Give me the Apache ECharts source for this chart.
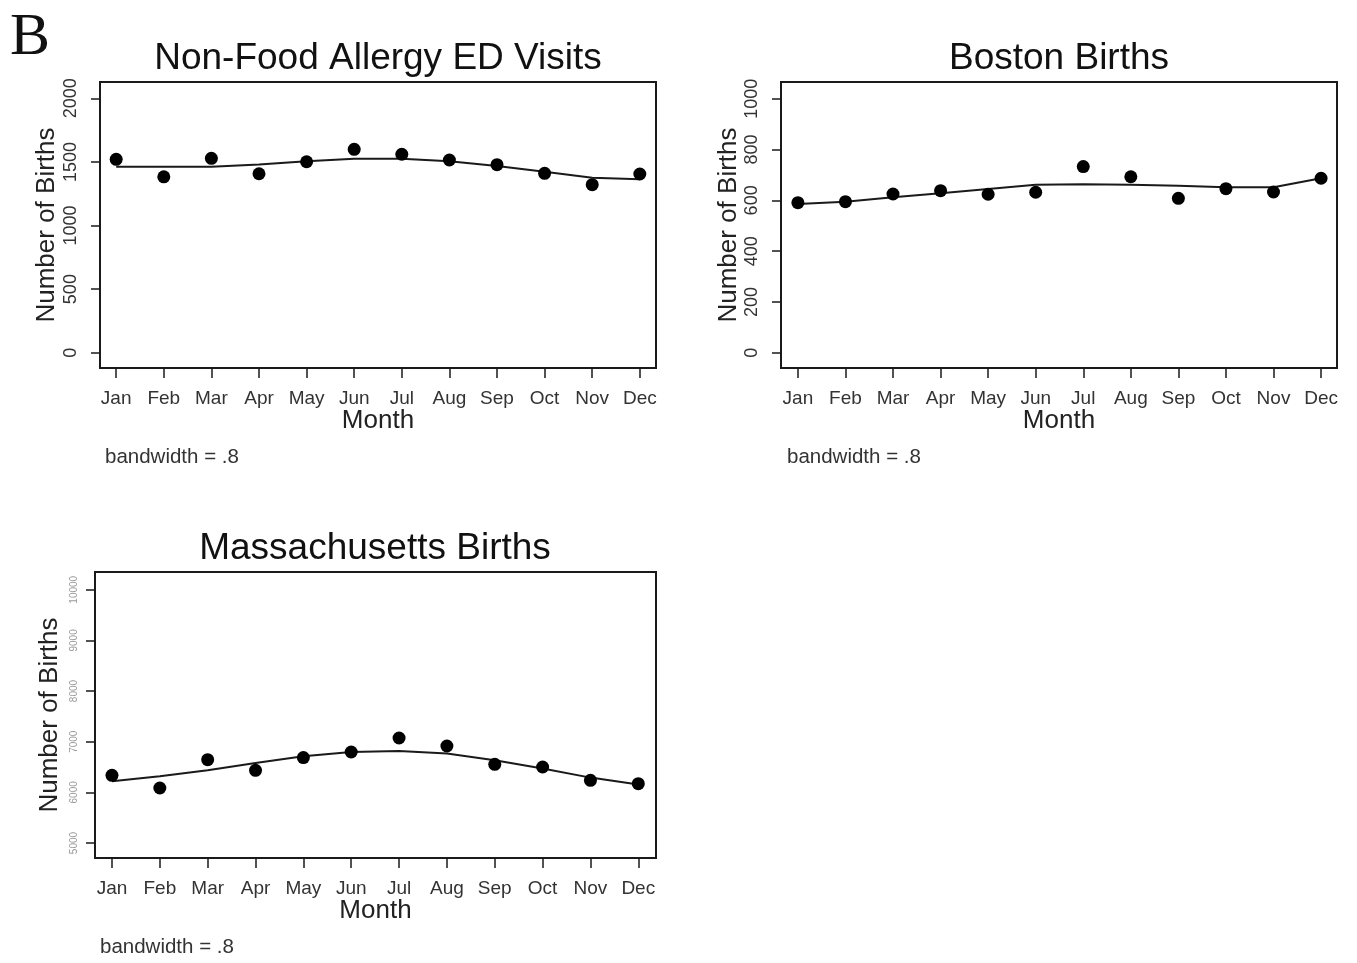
<!DOCTYPE html>
<html>
<head>
<meta charset="utf-8">
<script src="https://cdn.jsdelivr.net/npm/echarts@6/dist/echarts.min.js"></script>
<style>
html,body{margin:0;padding:0;background:#fff;}
#chart{width:1357px;height:963px;}
</style>
</head>
<body>
<div id="chart"></div>
<script>
// ---- data ----
const months = ['Jan','Feb','Mar','Apr','May','Jun','Jul','Aug','Sep','Oct','Nov','Dec'];
const monthNums = [1,2,3,4,5,6,7,8,9,10,11,12];

const allergyPts = [1520,1383,1528,1407,1501,1599,1560,1515,1478,1410,1321,1405];
const allergyFit = [1462,1462,1462,1480,1506,1525,1525,1506,1467,1423,1376,1363];
const allergyTicks = [0,500,1000,1500,2000];

const bostonPts = [591,595,625,638,624,632,733,693,608,646,633,687];
const bostonFit = [586,595,612,628,645,661,663,661,658,652,652,687];
const bostonTicks = [0,200,400,600,800,1000];

const massPts = [6336,6086,6646,6435,6686,6797,7073,6915,6553,6500,6238,6172];
const massFit = [6218,6317,6435,6579,6711,6797,6816,6765,6633,6469,6291,6153];
const massTicks = [5000,6000,7000,8000,9000,10000];

const titles = ['Non-Food Allergy ED Visits','Boston Births','Massachusetts Births'];
const yName = 'Number of Births';
const xName = 'Month';
const noteText = 'bandwidth = .8';
const panelLetter = 'B';

// ---- chart ----
const FONT = '"Liberation Sans", Arial, Helvetica, sans-serif';
const INK = '#1a1a1a';

const grids = [
  {left:100, top:82, width:556, height:286},
  {left:781, top:82, width:556, height:286},
  {left:95,  top:572, width:561, height:286}
];
const xRanges = [[0.66,12.34],[0.645,12.335],[0.645,12.37]];
const yRanges = [[-120,2128],[-60,1066],[4704,10350]];
const yTicks = [allergyTicks, bostonTicks, massTicks];
const pts = [allergyPts, bostonPts, massPts];
const fits = [allergyFit, bostonFit, massFit];
const yLabelStyle = [
  {fontSize:18, color:'#333', margin:20},
  {fontSize:18, color:'#333', margin:20},
  {fontSize:10, color:'#999', margin:16}
];
const yNameGap = [40, 39, 32];

const pair = (arr) => arr.map((v,i) => [monthNums[i], v]);

const option = {
  animation:false,
  backgroundColor:'#fff',
  textStyle:{fontFamily:FONT},
  grid: grids.map(g => Object.assign({
    show:true, borderColor:INK, borderWidth:2, backgroundColor:'#fff',
    containLabel:false, outerBoundsMode:'none'
  }, g)),
  xAxis: grids.map((g,i) => ({
    type:'value', gridIndex:i, min:xRanges[i][0], max:xRanges[i][1],
    position:'bottom',
    axisLine:{show:false, onZero:false},
    splitLine:{show:false},
    axisTick:{show:true, customValues:monthNums, length:10, inside:false,
              lineStyle:{color:INK, width:1.5}},
    axisLabel:{customValues:monthNums, fontSize:19, color:'#333', margin:21,
               fontFamily:FONT, formatter:(v)=>months[Math.round(v)-1] || ''},
    name:xName, nameLocation:'middle', nameGap:40, nameMoveOverlap:false,
    nameTextStyle:{fontSize:26, color:'#222', fontFamily:FONT}
  })),
  yAxis: grids.map((g,i) => ({
    type:'value', gridIndex:i, min:yRanges[i][0], max:yRanges[i][1],
    position:'left',
    axisLine:{show:false, onZero:false},
    splitLine:{show:false},
    axisTick:{show:true, customValues:yTicks[i], length:9, inside:false,
              lineStyle:{color:INK, width:1.5}},
    axisLabel:Object.assign({customValues:yTicks[i], rotate:90, fontFamily:FONT,
               formatter:(v)=>String(v)}, yLabelStyle[i]),
    name:yName, nameLocation:'middle', nameGap:yNameGap[i], nameMoveOverlap:false,
    nameTextStyle:{fontSize:26, color:'#222', fontFamily:FONT}
  })),
  series: [].concat(...grids.map((g,i) => ([
    {type:'line', xAxisIndex:i, yAxisIndex:i, data:pair(fits[i]),
     showSymbol:false, symbol:'none', smooth:false,
     lineStyle:{color:INK, width:2}, z:2},
    {type:'scatter', xAxisIndex:i, yAxisIndex:i, data:pair(pts[i]),
     symbol:'circle', symbolSize:13, itemStyle:{color:'#000', opacity:1}, z:3}
  ]))),
  graphic: [
    {type:'text', left:10, top:8, style:{text:panelLetter, font:'60px "Liberation Serif", "Times New Roman", serif', fill:'#111'}},
    {type:'text', x:378, y:59, style:{text:titles[0], font:'37px '+FONT, fill:'#111', align:'center', verticalAlign:'middle'}},
    {type:'text', x:1059, y:59, style:{text:titles[1], font:'37px '+FONT, fill:'#111', align:'center', verticalAlign:'middle'}},
    {type:'text', x:375, y:549, style:{text:titles[2], font:'37px '+FONT, fill:'#111', align:'center', verticalAlign:'middle'}},
    {type:'text', x:105, y:457, style:{text:noteText, font:'20.5px '+FONT, fill:'#333', align:'left', verticalAlign:'middle'}},
    {type:'text', x:787, y:457, style:{text:noteText, font:'20.5px '+FONT, fill:'#333', align:'left', verticalAlign:'middle'}},
    {type:'text', x:100, y:947, style:{text:noteText, font:'20.5px '+FONT, fill:'#333', align:'left', verticalAlign:'middle'}}
  ]
};

const chart = echarts.init(document.getElementById('chart'), null, {renderer:'canvas'});
chart.setOption(option);
</script>
</body>
</html>
